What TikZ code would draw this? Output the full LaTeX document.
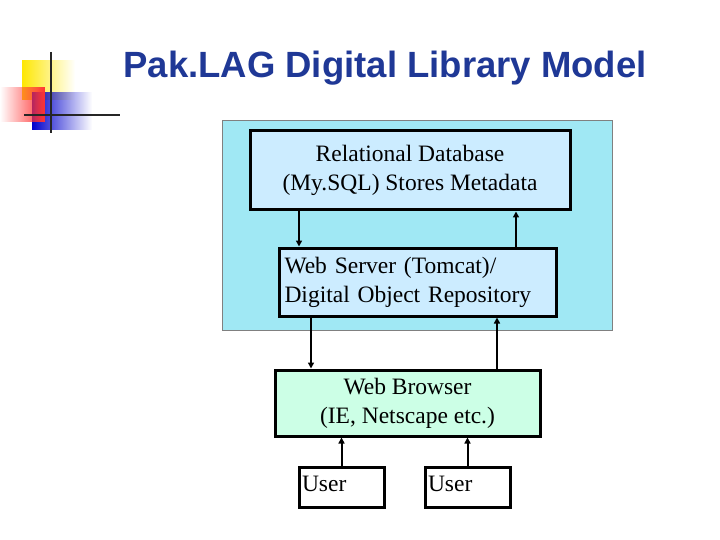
\documentclass[tikz,border=0pt]{standalone}
\usepackage{fontspec}
\setmainfont{Liberation Serif}
\newfontfamily\titlefont{Liberation Sans}
\usetikzlibrary{arrows.meta,fadings}
\definecolor{titleblue}{RGB}{31,56,150}
\definecolor{backcyan}{RGB}{160,232,244}
\definecolor{boxblue}{RGB}{204,236,255}
\definecolor{boxgreen}{RGB}{204,255,230}
\tikzstyle{block} = [rectangle, draw=black, line width=3pt, inner sep=0pt, align=center, font=\fontsize{23.5}{29}\selectfont]
\tikzstyle{arrow} = [line width=2pt,-{Triangle[length=6pt,width=6pt]}]

\begin{document}
\begin{tikzpicture}[x=1pt, y=-1pt]
    \useasboundingbox (0,0) rectangle (720,540);

    % logo
    \fill[yellow!90!orange, path fading=east] (22,60) rectangle (75,100);
    \fill[blue!80!black, path fading=east] (32,92) rectangle (92,130);
    \fill[red!80, path fading=west] (0,87) rectangle (45,122);
    \draw[line width=2pt, black!85] (51,52) -- (51,133);
    \draw[line width=2pt, black!85] (24,115) -- (120,115);

    % title
    \node (title) at (385,68) {\titlefont\bfseries\fontsize{36.5}{40}\selectfont\color{titleblue}Pak.LAG Digital Library Model};

    % server side
    \node (server) [draw=gray, fill=backcyan, minimum width=390pt, minimum height=210pt] at (417,225) {};

    \node (db) [block, fill=boxblue, minimum width=320pt, minimum height=79pt] at (410,170.5) {Relational Database\\(My.SQL) Stores Metadata};
    \node (web) [block, fill=boxblue, minimum width=277pt, minimum height=68pt, text width=266pt, align=left] at (417.5,282) {Web Server (Tomcat)/\\Digital Object Repository};
    \node (browser) [block, fill=boxgreen, minimum width=265pt, minimum height=66pt] at (407.5,403) {Web Browser\\(IE, Netscape etc.)};

    \node (user1) [block, fill=white, minimum width=85pt, minimum height=40pt, text width=79pt, align=left] at (341.5,487) {\raisebox{6pt}{User}};
    \node (user2) [block, fill=white, minimum width=85pt, minimum height=40pt, text width=79pt, align=left] at (467.5,487) {\raisebox{6pt}{User}};

    \coordinate (xa) at (299,0);
    \coordinate (xb) at (516,0);
    \coordinate (xc) at (311,0);
    \coordinate (xd) at (497,0);

    \draw [arrow] (db.south -| xa) -- (web.north -| xa);
    \draw [arrow] (web.north -| xb) -- (db.south -| xb);
    \draw [arrow] (web.south -| xc) -- (browser.north -| xc);
    \draw [arrow] (browser.north -| xd) -- (web.south -| xd);
    \draw [arrow] (user1.north) -- (browser.south -| user1.north);
    \draw [arrow] (user2.north) -- (browser.south -| user2.north);
\end{tikzpicture}
\end{document}
